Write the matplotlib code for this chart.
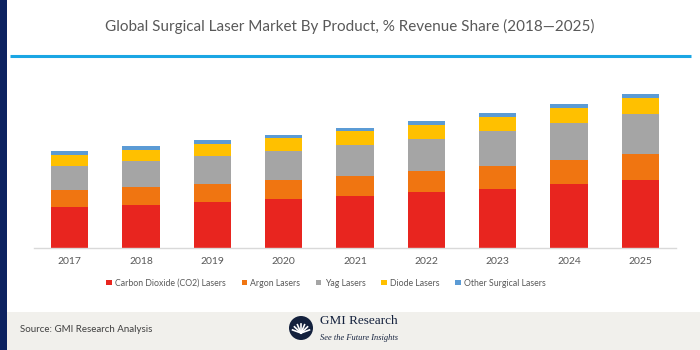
import matplotlib
matplotlib.use("Agg")
import matplotlib.pyplot as plt
from matplotlib.patches import Rectangle, Circle
import numpy as np

years = ["2017", "2018", "2019", "2020", "2021", "2022", "2023", "2024", "2025"]
co2 = [41.0, 43.0, 46.0, 49.0, 51.7, 55.4, 59.0, 63.7, 67.7]
argon = [16.7, 17.7, 18.0, 19.0, 20.3, 21.3, 22.7, 24.0, 25.7]
yag = [24.3, 26.0, 28.0, 29.0, 30.7, 32.3, 35.0, 36.7, 40.0]
diode = [11.0, 11.0, 11.7, 12.4, 13.7, 14.0, 14.3, 15.6, 16.0]
other = [3.4, 4.0, 3.7, 3.6, 3.3, 3.7, 3.7, 4.0, 4.3]
series_names = ["Carbon Dioxide (CO2) Lasers", "Argon Lasers", "Yag Lasers",
                "Diode Lasers", "Other Surgical Lasers"]
colors = ["#e8251f", "#f07511", "#a5a5a5", "#ffc000", "#5b9bd5"]
title = "Global Surgical Laser Market By Product, % Revenue Share (2018\u20142025)"

plt.rcParams['font.family'] = ['Lato', 'DejaVu Sans']

W, H = 700, 350
fig = plt.figure(figsize=(7, 3.5), dpi=100)
fig.patch.set_facecolor("white")

# background decorations (figure pixel coords)
bg = fig.add_axes([0, 0, 1, 1])
bg.set_xlim(0, W)
bg.set_ylim(H, 0)
bg.axis("off")
bg.add_patch(Rectangle((0, 312), W, 38, facecolor="#f1f0ec", edgecolor="none"))
bg.add_patch(Rectangle((0, 0), 7.3, H, facecolor="#0c2260", edgecolor="none"))
bg.plot([9.5, 691], [55.7, 55.7], color="#1aa6e4", lw=2.2, solid_capstyle="butt")
bg.text(350, 26, title, ha="center", va="center", fontsize=11, color="#595959")
bg.text(20, 330, "Source: GMI Research Analysis", ha="left", va="center",
        fontsize=7, color="#404040")
bg.add_patch(Circle((301, 328), 12, facecolor="#14213d", edgecolor="none"))
for ang in np.linspace(200, 340, 7):
    a = np.deg2rad(ang)
    bg.plot([301, 301 + 9 * np.cos(a)], [333, 333 + 9 * np.sin(a)],
            color="white", lw=1.2)
bg.text(320, 321, "GMI Research", ha="left", va="center", fontsize=9.5,
        color="#14213d", family=["Liberation Serif", "DejaVu Serif"])
bg.text(320, 338, "See the Future Insights", ha="left", va="center", fontsize=6,
        color="#14213d", style="italic", family=["Liberation Serif", "DejaVu Serif"])

# chart axes: baseline at y=247.7 px, 1 data unit = 1 px
x0, x1 = 34, 676
base = 247.7
top = 85
ax = fig.add_axes([x0 / W, (H - base) / H, (x1 - x0) / W, (base - top) / H])
ax.set_facecolor("none")
x = np.arange(len(years))
data = [co2, argon, yag, diode, other]
bottom = np.zeros(len(years))
handles = []
for vals, c, name in zip(data, colors, series_names):
    b = ax.bar(x, vals, bottom=bottom, width=0.52, color=c, label=name,
               edgecolor="none")
    handles.append(b)
    bottom += np.array(vals)
ax.set_xlim(-0.5, len(years) - 0.5)
ax.set_ylim(0, base - top)
ax.set_xticks(x)
ax.set_xticklabels(years, fontsize=7.5, color="#595959")
ax.tick_params(axis="x", length=0, pad=7)
ax.set_yticks([])
for s in ["top", "right", "left"]:
    ax.spines[s].set_visible(False)
ax.spines["bottom"].set_color("#d9d9d9")
ax.spines["bottom"].set_linewidth(1)

fig.legend(handles=handles, labels=series_names, loc="center",
           bbox_to_anchor=(326 / W, (H - 283) / H), ncol=5, frameon=False,
           fontsize=6.3, labelcolor="#595959", handlelength=0.6, handleheight=0.6,
           handletextpad=0.4, columnspacing=1.8)

fig.savefig("out.png", dpi=100)
